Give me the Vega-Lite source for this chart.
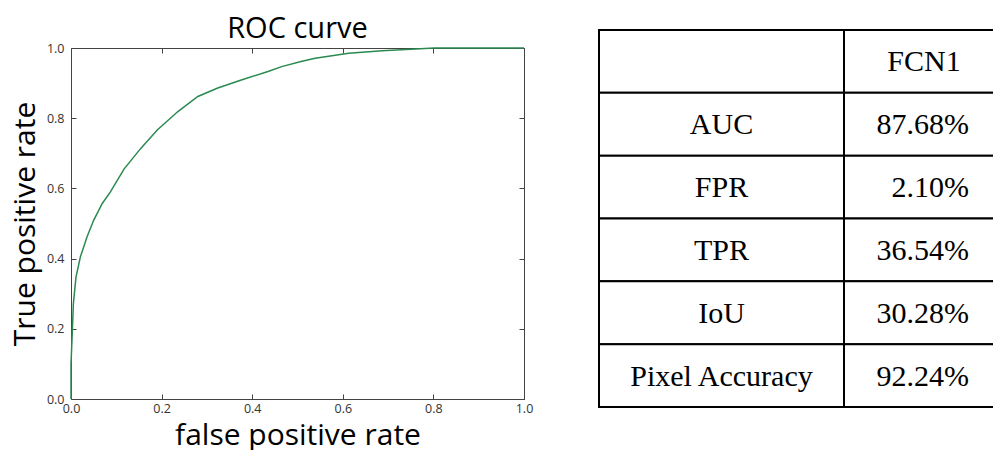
{
  "$schema": "https://vega.github.io/schema/vega-lite/v6.json",
  "background": "white",
  "autosize": {"type": "pad"},
  "padding": {"left": 9, "top": 14, "right": 0, "bottom": 0},
  "datasets": {
    "roc": [
      {"fpr": 0.0, "tpr": 0.0},
      {"fpr": 0.0, "tpr": 0.10},
      {"fpr": 0.003, "tpr": 0.195},
      {"fpr": 0.0052, "tpr": 0.271},
      {"fpr": 0.011, "tpr": 0.347},
      {"fpr": 0.0207, "tpr": 0.405},
      {"fpr": 0.0355, "tpr": 0.462},
      {"fpr": 0.050, "tpr": 0.509},
      {"fpr": 0.069, "tpr": 0.557},
      {"fpr": 0.087, "tpr": 0.590},
      {"fpr": 0.117, "tpr": 0.655},
      {"fpr": 0.154, "tpr": 0.714},
      {"fpr": 0.191, "tpr": 0.767},
      {"fpr": 0.236, "tpr": 0.819},
      {"fpr": 0.280, "tpr": 0.862},
      {"fpr": 0.324, "tpr": 0.886},
      {"fpr": 0.376, "tpr": 0.909},
      {"fpr": 0.435, "tpr": 0.933},
      {"fpr": 0.465, "tpr": 0.947},
      {"fpr": 0.510, "tpr": 0.962},
      {"fpr": 0.539, "tpr": 0.971},
      {"fpr": 0.613, "tpr": 0.985},
      {"fpr": 0.687, "tpr": 0.992},
      {"fpr": 0.761, "tpr": 0.997},
      {"fpr": 0.802, "tpr": 1.0},
      {"fpr": 1.0, "tpr": 1.0}
    ],
    "table": [
      {"row": "header", "label": "", "value": "FCN1"},
      {"row": "AUC", "label": "AUC", "value": "87.68%"},
      {"row": "FPR", "label": "FPR", "value": "2.10%"},
      {"row": "TPR", "label": "TPR", "value": "36.54%"},
      {"row": "IoU", "label": "IoU", "value": "30.28%"},
      {"row": "Pixel Accuracy", "label": "Pixel Accuracy", "value": "92.24%"}
    ]
  },
  "bounds": "flush",
  "spacing": 75,
  "hconcat": [
    {
      "width": 453,
      "height": 351,
      "view": {"stroke": "#444", "strokeWidth": 1},
      "title": {"text": "ROC curve", "font": "Open Sans", "fontSize": 29, "fontWeight": "normal", "color": "black", "frame": "group", "anchor": "middle", "baseline": "alphabetic", "offset": -25},
      "data": {"name": "roc"},
      "layer": [
        {
          "mark": {"type": "line", "color": "#2a8a50", "strokeWidth": 1.5},
          "encoding": {
            "x": {"field": "fpr", "type": "quantitative", "scale": {"domain": [0, 1], "nice": false, "zero": false},
              "axis": {"orient": "bottom", "values": [0, 0.2, 0.4, 0.6, 0.8, 1.0], "format": ".1f", "grid": false, "domain": false,
                "tickSize": -5, "tickColor": "#444", "labelPadding": 8, "labelFont": "Open Sans", "labelFontSize": 12.5, "labelColor": "#333", "labelFlush": false,
                "title": "false positive rate", "titleFont": "Open Sans", "titleFontSize": 30, "titleFontWeight": "normal", "titleColor": "black", "titlePadding": 6}},
            "y": {"field": "tpr", "type": "quantitative", "scale": {"domain": [0, 1], "nice": false, "zero": false},
              "axis": {"orient": "left", "values": [0, 0.2, 0.4, 0.6, 0.8, 1.0], "format": ".1f", "grid": false, "domain": false,
                "tickSize": -5, "tickColor": "#444", "labelPadding": 12, "labelFont": "Open Sans", "labelFontSize": 12.5, "labelColor": "#333", "labelFlush": false,
                "title": "True positive rate", "titleFont": "Open Sans", "titleFontSize": 30, "titleFontWeight": "normal", "titleColor": "black", "titlePadding": 6}}
          }
        },
        {
          "mark": {"type": "line", "opacity": 0},
          "encoding": {
            "x": {"field": "fpr", "type": "quantitative",
              "axis": {"orient": "top", "values": [0, 0.2, 0.4, 0.6, 0.8, 1.0], "labels": false, "grid": false, "domain": false, "tickSize": -5, "tickColor": "#444", "title": null}},
            "y": {"field": "tpr", "type": "quantitative",
              "axis": {"orient": "right", "values": [0, 0.2, 0.4, 0.6, 0.8, 1.0], "labels": false, "grid": false, "domain": false, "tickSize": -5, "tickColor": "#444", "title": null}}
          }
        }
      ],
      "resolve": {"axis": {"x": "independent", "y": "independent"}}
    },
    {
      "bounds": "flush",
      "spacing": 0,
      "hconcat": [
        {
          "width": 245,
          "height": 351,
          "view": {"stroke": null},
          "data": {"name": "table"},
          "layer": [
            {
              "mark": {"type": "rect", "fill": "white", "stroke": "black", "strokeWidth": 2},
              "encoding": {
                "y": {"field": "row", "type": "nominal", "sort": null, "axis": null,
                  "scale": {"type": "band", "domain": ["header", "AUC", "FPR", "TPR", "IoU", "Pixel Accuracy"], "range": [-18, 359], "paddingInner": 0, "paddingOuter": 0}}
              }
            },
            {
              "mark": {"type": "text", "font": "Liberation Serif", "fontSize": 30, "color": "black", "align": "center", "baseline": "middle", "dy": 1},
              "encoding": {
                "y": {"field": "row", "type": "nominal", "sort": null, "axis": null, "band": 0.5},
                "text": {"field": "label"}
              }
            }
          ]
        },
        {
          "width": 150,
          "height": 351,
          "view": {"stroke": null},
          "data": {"name": "table"},
          "layer": [
            {
              "mark": {"type": "rect", "fill": "white", "stroke": "black", "strokeWidth": 2},
              "encoding": {
                "y": {"field": "row", "type": "nominal", "sort": null, "axis": null,
                  "scale": {"type": "band", "domain": ["header", "AUC", "FPR", "TPR", "IoU", "Pixel Accuracy"], "range": [-18, 359], "paddingInner": 0, "paddingOuter": 0}}
              }
            },
            {
              "transform": [{"filter": "datum.row === 'header'"}],
              "mark": {"type": "text", "font": "Liberation Serif", "fontSize": 30, "color": "black", "align": "center", "baseline": "middle", "dx": 5, "dy": 1},
              "encoding": {
                "y": {"field": "row", "type": "nominal", "sort": null, "axis": null},
                "text": {"field": "value"}
              }
            },
            {
              "transform": [{"filter": "datum.row !== 'header'"}],
              "mark": {"type": "text", "font": "Liberation Serif", "fontSize": 30, "color": "black", "align": "right", "baseline": "middle", "dx": 50, "dy": 1},
              "encoding": {
                "y": {"field": "row", "type": "nominal", "sort": null, "axis": null},
                "text": {"field": "value"}
              }
            }
          ]
        }
      ]
    }
  ]
}
